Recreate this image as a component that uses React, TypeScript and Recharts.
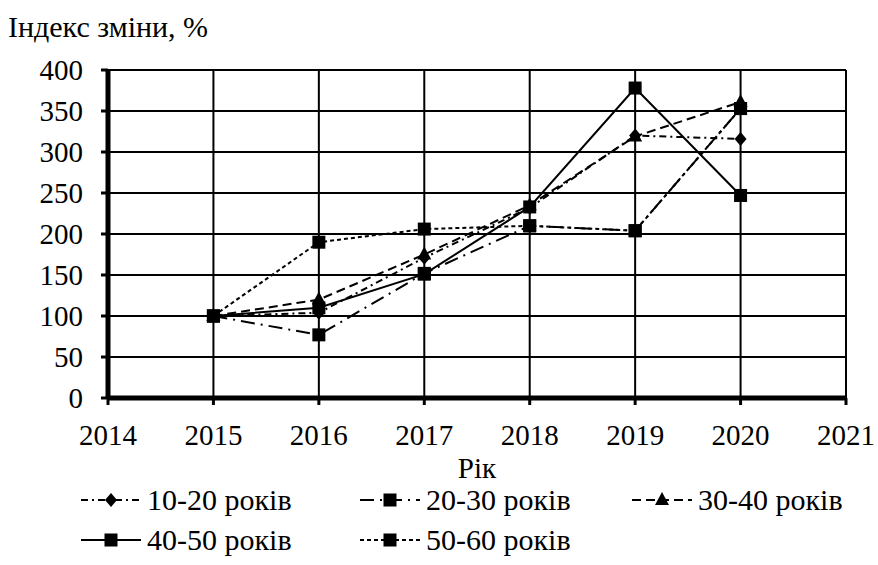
import React from 'react';
import { LineChart, Line, XAxis, YAxis, CartesianGrid } from 'recharts';

const FONT = "'Liberation Serif', Tinos, 'Times New Roman', 'Noto Serif', 'DejaVu Serif', FreeSerif, serif";

const years = [2015, 2016, 2017, 2018, 2019, 2020];
const s10_20 = [100, 104, 171, 232, 320, 316];
const s20_30 = [100, 77, 152, 210, 204, 353];
const s30_40 = [100, 120, 175, 235, 319, 361];
const s40_50 = [100, 110, 151, 233, 378, 247];
const s50_60 = [100, 190, 206, 210, 204, 353];

const xTicks = [2014, 2015, 2016, 2017, 2018, 2019, 2020, 2021];
const yTicks = [0, 50, 100, 150, 200, 250, 300, 350, 400];

const data = years.map((year, i) => ({
  year,
  a: s10_20[i],
  b: s20_30[i],
  c: s30_40[i],
  d: s40_50[i],
  e: s50_60[i],
}));

type Shape = 'diamond' | 'square' | 'triangle';

const series: { key: string; name: string; dash: string; shape: Shape }[] = [
  { key: 'a', name: '10-20 років', dash: '7 4 2 4', shape: 'diamond' },
  { key: 'b', name: '20-30 років', dash: '14 6 2 6', shape: 'square' },
  { key: 'c', name: '30-40 років', dash: '9 5', shape: 'triangle' },
  { key: 'd', name: '40-50 років', dash: '', shape: 'square' },
  { key: 'e', name: '50-60 років', dash: '4 3', shape: 'square' },
];

// marker drawn at (x, y)
const marker = (shape: Shape, x: number, y: number, key?: string) => {
  if (shape === 'diamond')
    return <polygon key={key} points={`${x},${y - 7} ${x + 6},${y} ${x},${y + 7} ${x - 6},${y}`} fill="#000" />;
  if (shape === 'triangle')
    return <polygon key={key} points={`${x},${y - 8} ${x + 7},${y + 5} ${x - 7},${y + 5}`} fill="#000" />;
  return <rect key={key} x={x - 6.5} y={y - 6.5} width={13} height={13} fill="#000" />;
};

const makeDot = (shape: Shape) => (props: any) =>
  marker(shape, props.cx, props.cy, `${shape}-${props.index}-${props.dataKey}`);

const legendPos = [
  { x: 81, y: 510 },
  { x: 360, y: 510 },
  { x: 632, y: 510 },
  { x: 81, y: 550 },
  { x: 360, y: 550 },
];

const ChartLegend = () => (
  <svg width={878} height={565} style={{ position: 'absolute', left: 0, top: 0, pointerEvents: 'none' }}>
    {series.map((s, i) => {
      const p = legendPos[i];
      const my = p.y - 10;
      return (
        <g key={s.key}>
          <line x1={p.x} x2={p.x + 60} y1={my} y2={my} stroke="#000" strokeWidth={2} strokeDasharray={s.dash || undefined} />
          {marker(s.shape, p.x + 30, my)}
          <text x={p.x + 66} y={p.y} style={{ fontSize: 30, fontFamily: FONT }} fill="#000">
            {s.name}
          </text>
        </g>
      );
    })}
  </svg>
);

export default function App() {
  return (
    <div style={{ position: 'relative', width: 878, height: 565, background: '#fff', fontFamily: FONT }}>
      <style>{'body{margin:0} .recharts-wrapper text{font-family:' + FONT + '}'}</style>
      <div
        style={{
          position: 'absolute',
          left: 8,
          top: 10,
          fontFamily: FONT,
          fontSize: 30,
          lineHeight: '33px',
          color: '#000',
          whiteSpace: 'nowrap',
        }}
      >
        Індекс зміни, %
      </div>
      <LineChart width={878} height={565} data={data} margin={{ top: 70, right: 32, bottom: 89, left: 0 }}>
        <CartesianGrid stroke="#000" strokeWidth={2} />
        <XAxis
          type="number"
          dataKey="year"
          domain={[2014, 2021]}
          ticks={xTicks}
          interval={0}
          height={78}
          tickSize={7}
          tickMargin={19}
          tick={{ fill: '#000', fontSize: 29, fontFamily: FONT }}
          tickLine={{ stroke: '#000', strokeWidth: 3 }}
          axisLine={{ stroke: '#000', strokeWidth: 5 }}
          label={{ value: 'Рік', position: 'insideBottom', offset: -2, fill: '#000', fontSize: 29, fontFamily: FONT }}
        />
        <YAxis
          type="number"
          domain={[0, 400]}
          ticks={yTicks}
          interval={0}
          width={108}
          tickSize={7}
          tickMargin={18}
          tick={{ fill: '#000', fontSize: 29, fontFamily: FONT }}
          tickLine={{ stroke: '#000', strokeWidth: 3 }}
          axisLine={{ stroke: '#000', strokeWidth: 5 }}
        />
        {series.map((s) => (
          <Line
            key={s.key}
            type="linear"
            dataKey={s.key}
            name={s.name}
            stroke="#000"
            strokeWidth={2}
            strokeDasharray={s.dash || undefined}
            dot={makeDot(s.shape)}
            activeDot={false}
            isAnimationActive={false}
          />
        ))}
      </LineChart>
      <ChartLegend />
    </div>
  );
}
